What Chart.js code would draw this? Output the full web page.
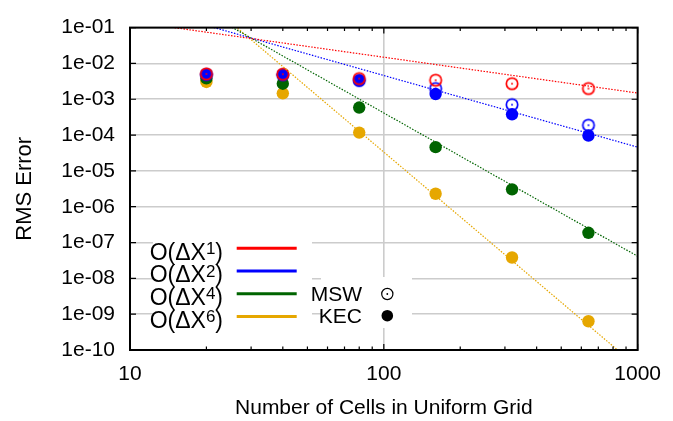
<!DOCTYPE html>
<html>
<head>
<meta charset="utf-8">
<script src="https://cdn.jsdelivr.net/npm/chart.js@4.4.1/dist/chart.umd.min.js"></script>
<style>
  html, body { margin: 0; padding: 0; background: #fff; }
  #wrap { width: 673px; height: 421px; }
</style>
</head>
<body>
<div id="wrap"><canvas id="c" width="673" height="421"></canvas></div>
<script>
// Grid resolutions (number of cells)
const cells = [20, 40, 80, 160, 320, 640];

// RMS errors per scheme
const mswFirst  = [5.1e-3, 5.0e-3, 3.77e-3, 3.40e-3, 2.72e-3, 1.99e-3];
const mswSecond = [4.9e-3, 4.8e-3, 3.35e-3, 1.99e-3, 7.06e-4, 1.88e-4];
const kecSecond = [4.84e-3, 4.84e-3, 3.33e-3, 1.40e-3, 3.80e-4, 9.7e-5];
const kecFourth = [3.82e-3, 2.72e-3, 5.87e-4, 4.6e-5, 3.05e-6, 1.87e-7];
const kecSixth  = [3.04e-3, 1.46e-3, 1.17e-4, 2.30e-6, 3.82e-8, 6.35e-10];

// Convergence-rate guide lines, given by their end values at 10 and 1000 cells
const guideCells = [10, 1000];
const guideOrder1 = [0.149, 1.49e-3];
const guideOrder2 = [0.46, 4.6e-5];
const guideOrder4 = [4.14, 4.14e-8];
const guideOrder6 = [33.45, 3.345e-11];

// Axis ticks
const xTickValues = [10, 100, 1000];
const xTickLabels = ['10', '100', '1000'];
const xMinorValues = [20, 30, 40, 50, 60, 70, 80, 90, 200, 300, 400, 500, 600, 700, 800, 900];
const yTickValues = [1e-10, 1e-9, 1e-8, 1e-7, 1e-6, 1e-5, 1e-4, 1e-3, 1e-2, 1e-1];
const yTickLabels = ['1e-10', '1e-09', '1e-08', '1e-07', '1e-06', '1e-05', '1e-04', '1e-03', '1e-02', '1e-01'];

// Legend entries
const orderLabels = ['1', '2', '4', '6'];
const methodLabels = ['MSW', 'KEC'];

const RED = '#ff0000', BLUE = '#0000ff', GREEN = '#006400', GOLD = '#e6a700';
const orderColors = [RED, BLUE, GREEN, GOLD];
const FONT = "'Liberation Sans', Arial, sans-serif";

function pts(xs, ys) { return xs.map((x, i) => ({ x: x, y: ys[i] })); }

// open circle with a dot in the middle
function ringMarker(color, lw) {
  const c = document.createElement('canvas');
  c.width = 16; c.height = 16;
  const g = c.getContext('2d');
  g.strokeStyle = color; g.lineWidth = lw;
  g.beginPath(); g.arc(8, 8, 5.7, 0, Math.PI * 2); g.stroke();
  g.fillStyle = color;
  g.beginPath(); g.arc(8, 8, 0.9, 0, Math.PI * 2); g.fill();
  return c;
}

function guide(data, color) {
  return {
    data: pts(guideCells, data), showLine: true, borderColor: color,
    borderWidth: 1.2, borderDash: [1.5, 1.5], pointRadius: 0, fill: false
  };
}
function ring(data, color) {
  return {
    data: pts(cells, data), showLine: false, pointStyle: ringMarker(color, 1.7),
    pointRadius: 6, borderColor: color, backgroundColor: 'rgba(0,0,0,0)'
  };
}
function dot(data, color) {
  return {
    data: pts(cells, data), showLine: false, pointStyle: 'circle',
    pointRadius: 6.2, borderWidth: 0, backgroundColor: color, borderColor: color
  };
}

const frameAndKey = {
  id: 'frameAndKey',
  beforeDatasetsDraw(chart) {
    const ctx = chart.ctx;
    ctx.save();
    ctx.fillStyle = '#ffffff';
    ctx.fillRect(153, 228, 159, 110);
    ctx.fillRect(321, 277, 91, 51);
    ctx.restore();
  },
  afterDatasetsDraw(chart) {
    const ctx = chart.ctx, a = chart.chartArea;
    const xs = chart.scales.x, ys = chart.scales.y;
    ctx.save();
    // tick marks, pointing inward on all four sides
    ctx.strokeStyle = '#000'; ctx.lineWidth = 1.2;
    ctx.beginPath();
    xTickValues.forEach(v => {
      const px = xs.getPixelForValue(v);
      ctx.moveTo(px, a.bottom); ctx.lineTo(px, a.bottom - 6);
      ctx.moveTo(px, a.top); ctx.lineTo(px, a.top + 6);
    });
    xMinorValues.forEach(v => {
      const px = xs.getPixelForValue(v);
      ctx.moveTo(px, a.bottom); ctx.lineTo(px, a.bottom - 3.5);
      ctx.moveTo(px, a.top); ctx.lineTo(px, a.top + 3.5);
    });
    yTickValues.forEach(v => {
      const py = ys.getPixelForValue(v);
      ctx.moveTo(a.left, py); ctx.lineTo(a.left + 6, py);
      ctx.moveTo(a.right, py); ctx.lineTo(a.right - 6, py);
    });
    ctx.stroke();
    // plot frame
    ctx.lineWidth = 2;
    ctx.strokeRect(a.left, a.top, a.right - a.left, a.bottom - a.top);

    // order key
    const big = '23px ' + FONT, sup = '17px ' + FONT;
    ctx.textBaseline = 'alphabetic';
    ctx.textAlign = 'left';
    orderLabels.forEach((p, i) => {
      const base = 259.5 + i * 22.7;
      ctx.font = big;
      const w1 = ctx.measureText('O(\u0394X').width;
      const w3 = ctx.measureText(')').width;
      ctx.font = sup;
      const w2 = ctx.measureText(p).width;
      const x0 = 223 - (w1 + w2 + w3);
      ctx.fillStyle = '#000';
      ctx.font = big; ctx.fillText('O(\u0394X', x0, base);
      ctx.font = sup; ctx.fillText(p, x0 + w1, base - 5.5);
      ctx.font = big; ctx.fillText(')', x0 + w1 + w2, base);
      ctx.strokeStyle = orderColors[i]; ctx.lineWidth = 3;
      ctx.beginPath();
      const ly = 248.3 + i * 22.7;
      ctx.moveTo(236.7, ly); ctx.lineTo(296.7, ly);
      ctx.stroke();
    });

    // method key
    ctx.font = '21px ' + FONT;
    ctx.textAlign = 'right';
    ctx.fillStyle = '#000';
    ctx.fillText(methodLabels[0], 362, 301);
    ctx.fillText(methodLabels[1], 362, 322.7);
    ctx.strokeStyle = '#000'; ctx.lineWidth = 1.2;
    ctx.beginPath(); ctx.arc(387.3, 294, 5.6, 0, Math.PI * 2); ctx.stroke();
    ctx.beginPath(); ctx.arc(387.3, 294, 0.9, 0, Math.PI * 2); ctx.fill();
    ctx.beginPath(); ctx.arc(387.3, 315.7, 5.8, 0, Math.PI * 2); ctx.fill();
    ctx.restore();
  }
};

new Chart(document.getElementById('c'), {
  type: 'scatter',
  data: {
    datasets: [
      guide(guideOrder1, RED),
      guide(guideOrder2, BLUE),
      guide(guideOrder4, GREEN),
      guide(guideOrder6, GOLD),
      ring(mswFirst, RED),
      ring(mswSecond, BLUE),
      dot(kecSecond, BLUE),
      dot(kecFourth, GREEN),
      dot(kecSixth, GOLD)
    ]
  },
  options: {
    responsive: false,
    animation: false,
    layout: { padding: { left: 0, top: 16, right: 31, bottom: 0 } },
    plugins: { legend: { display: false }, tooltip: { enabled: false } },
    scales: {
      x: {
        type: 'logarithmic', min: 10, max: 1000,
        afterBuildTicks: s => { s.ticks = xTickValues.map(v => ({ value: v })); },
        afterFit: s => { s.height = 71; },
        ticks: {
          padding: 12, color: '#000', font: { family: FONT, size: 21 },
          maxRotation: 0, autoSkip: false,
          callback: (v, i) => xTickLabels[i]
        },
        grid: {
          drawTicks: false, lineWidth: 1.6,
          color: c => (c.tick && c.tick.value === 100) ? '#cccccc' : 'rgba(0,0,0,0)'
        },
        border: { display: false },
        title: {
          display: true, text: 'Number of Cells in Uniform Grid', color: '#000',
          font: { family: FONT, size: 21 }, padding: { top: 3.5, bottom: 0 }
        }
      },
      y: {
        type: 'logarithmic', min: 1e-10, max: 1e-1,
        afterBuildTicks: s => { s.ticks = yTickValues.map(v => ({ value: v })); },
        afterFit: s => { s.width = 130; },
        ticks: {
          padding: 15, color: '#000', font: { family: FONT, size: 21 },
          autoSkip: false,
          callback: (v, i) => yTickLabels[i]
        },
        grid: { drawTicks: false, lineWidth: 1.6, color: '#cccccc' },
        border: { display: false },
        title: {
          display: true, text: 'RMS Error', color: '#000',
          font: { family: FONT, size: 22 }, padding: { top: 11.8, bottom: 0 }
        }
      }
    }
  },
  plugins: [frameAndKey]
});
</script>
</body>
</html>
